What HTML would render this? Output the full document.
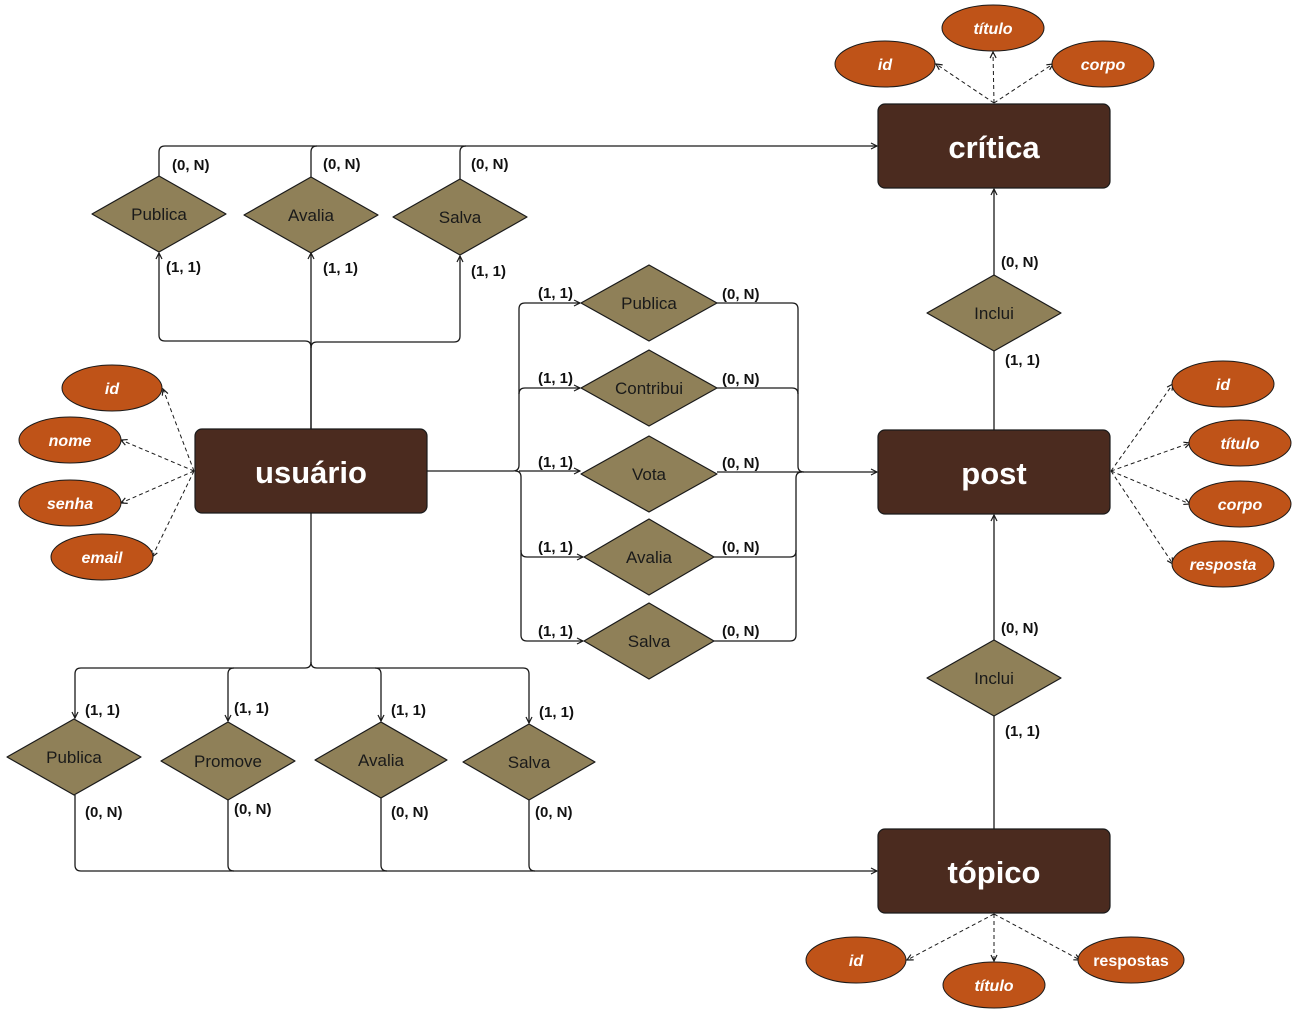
<!DOCTYPE html>
<html><head><meta charset="utf-8"><style>
html,body{margin:0;padding:0;background:#fff;}
svg{display:block;}
.ent{fill:#4b2b1f;stroke:#1a1a1a;stroke-width:1.2;}
.et{fill:#fff;font-family:"Liberation Sans",sans-serif;font-weight:bold;font-size:31px;text-anchor:middle;}
.dia{fill:#8f8058;stroke:#1a1a1a;stroke-width:1.2;stroke-linejoin:round;}
.dt{fill:#1a1a1a;font-family:"Liberation Sans",sans-serif;font-size:17px;text-anchor:middle;}
.att{fill:#bf5318;stroke:#1a1a1a;stroke-width:1;}
.at{fill:#fff;font-family:"Liberation Sans",sans-serif;font-weight:bold;font-style:italic;font-size:16px;text-anchor:middle;}
.ln{fill:none;stroke:#1a1a1a;stroke-width:1.3;}
.ds{fill:none;stroke:#1a1a1a;stroke-width:1;stroke-dasharray:4 3;}
.lb{fill:#111;font-family:"Liberation Sans",sans-serif;font-weight:bold;font-size:15px;}
</style></head><body>
<svg width="1299" height="1011" viewBox="0 0 1299 1011" xmlns="http://www.w3.org/2000/svg">
<defs><marker id="a" markerWidth="8" markerHeight="8" refX="7" refY="4" orient="auto" markerUnits="userSpaceOnUse"><path d="M1,1 L7,4 L1,7" fill="none" stroke="#1a1a1a" stroke-width="1.2"/></marker></defs>

<!-- top connectors -->
<path class="ln" d="M159,176 V152 Q159,146 165,146 H877" marker-end="url(#a)"/>
<path class="ln" d="M311,177 V152 Q311,146 317,146"/>
<path class="ln" d="M460,179 V152 Q460,146 466,146"/>
<path class="ln" d="M311,429 V347 Q311,341 305,341 H165 Q159,341 159,335 V253" marker-end="url(#a)"/>
<path class="ln" d="M311,429 V253" marker-end="url(#a)"/>
<path class="ln" d="M311,348 Q311,342 317,342 H454 Q460,342 460,336 V256" marker-end="url(#a)"/>

<!-- middle connectors -->
<path class="ln" d="M427,471 H513 Q519,471 519,465 V309 Q519,303 525,303 H580" marker-end="url(#a)"/>
<path class="ln" d="M519,394 Q519,388 525,388 H580" marker-end="url(#a)"/>
<path class="ln" d="M519,471 H580" marker-end="url(#a)"/>
<path class="ln" d="M515,471 Q521,471 521,477 V551 Q521,557 527,557 H583" marker-end="url(#a)"/>
<path class="ln" d="M521,550 V635 Q521,641 527,641 H583" marker-end="url(#a)"/>
<path class="ln" d="M717,303 H792 Q798,303 798,309 V466 Q798,472 804,472 H877" marker-end="url(#a)"/>
<path class="ln" d="M717,388 H792 Q798,388 798,394"/>
<path class="ln" d="M717,472 H804"/>
<path class="ln" d="M714,557 H790 Q796,557 796,551 V478 Q796,472 802,472"/>
<path class="ln" d="M714,641 H790 Q796,641 796,635 V550"/>

<!-- bottom connectors -->
<path class="ln" d="M311,513 V662 Q311,668 305,668 H81 Q75,668 75,674 V718" marker-end="url(#a)"/>
<path class="ln" d="M234,668 Q228,668 228,674 V721" marker-end="url(#a)"/>
<path class="ln" d="M311,662 Q311,668 317,668 H375 Q381,668 381,674 V721" marker-end="url(#a)"/>
<path class="ln" d="M375,668 H523 Q529,668 529,674 V723" marker-end="url(#a)"/>
<path class="ln" d="M75,795 V865 Q75,871 81,871 H877" marker-end="url(#a)"/>
<path class="ln" d="M228,800 V865 Q228,871 234,871"/>
<path class="ln" d="M381,798 V865 Q381,871 387,871"/>
<path class="ln" d="M529,800 V865 Q529,871 535,871"/>

<!-- Inclui connectors -->
<path class="ln" d="M994,430 V189" marker-end="url(#a)"/>
<path class="ln" d="M994,829 V515" marker-end="url(#a)"/>

<!-- dashed attribute lines -->
<g marker-end="url(#a)">
<path class="ds" d="M994,103 L936,64"/><path class="ds" d="M994,103 L993,52"/><path class="ds" d="M994,103 L1053,64"/>
<path class="ds" d="M194,471 L163,389"/><path class="ds" d="M194,471 L121,440"/><path class="ds" d="M194,471 L121,503"/><path class="ds" d="M194,471 L152,557"/>
<path class="ds" d="M1111,471 L1173,384"/><path class="ds" d="M1111,471 L1190,443"/><path class="ds" d="M1111,471 L1190,504"/><path class="ds" d="M1111,471 L1173,564"/>
<path class="ds" d="M994,914 L907,960"/><path class="ds" d="M994,914 L994,961"/><path class="ds" d="M994,914 L1080,960"/>
</g>

<!-- entities -->
<rect class="ent" x="878" y="104" width="232" height="84" rx="7"/><text class="et" x="994" y="158">crítica</text>
<rect class="ent" x="195" y="429" width="232" height="84" rx="7"/><text class="et" x="311" y="483">usuário</text>
<rect class="ent" x="878" y="430" width="232" height="84" rx="7"/><text class="et" x="994" y="484">post</text>
<rect class="ent" x="878" y="829" width="232" height="84" rx="7"/><text class="et" x="994" y="883">tópico</text>

<!-- diamonds -->
<polygon class="dia" points="159,176 226,214 159,252 92,214"/><text class="dt" x="159" y="220">Publica</text>
<polygon class="dia" points="311,177 378,215 311,253 244,215"/><text class="dt" x="311" y="221">Avalia</text>
<polygon class="dia" points="460,179 527,217 460,255 393,217"/><text class="dt" x="460" y="223">Salva</text>
<polygon class="dia" points="649,265 717,303 649,341 581,303"/><text class="dt" x="649" y="309">Publica</text>
<polygon class="dia" points="649,350 717,388 649,426 581,388"/><text class="dt" x="649" y="394">Contribui</text>
<polygon class="dia" points="649,436 717,474 649,512 581,474"/><text class="dt" x="649" y="480">Vota</text>
<polygon class="dia" points="649,519 714,557 649,595 584,557"/><text class="dt" x="649" y="563">Avalia</text>
<polygon class="dia" points="649,603 714,641 649,679 584,641"/><text class="dt" x="649" y="647">Salva</text>
<polygon class="dia" points="994,275 1061,313 994,351 927,313"/><text class="dt" x="994" y="319">Inclui</text>
<polygon class="dia" points="994,640 1061,678 994,716 927,678"/><text class="dt" x="994" y="684">Inclui</text>
<polygon class="dia" points="74,719 141,757 74,795 7,757"/><text class="dt" x="74" y="763">Publica</text>
<polygon class="dia" points="228,722 295,761 228,800 161,761"/><text class="dt" x="228" y="767">Promove</text>
<polygon class="dia" points="381,722 447,760 381,798 315,760"/><text class="dt" x="381" y="766">Avalia</text>
<polygon class="dia" points="529,724 595,762 529,800 463,762"/><text class="dt" x="529" y="768">Salva</text>

<!-- attributes -->
<ellipse class="att" cx="885" cy="64" rx="50" ry="23"/><text class="at" x="885" y="70">id</text>
<ellipse class="att" cx="993" cy="28" rx="51" ry="23"/><text class="at" x="993" y="34">título</text>
<ellipse class="att" cx="1103" cy="64" rx="51" ry="23"/><text class="at" x="1103" y="70">corpo</text>
<ellipse class="att" cx="112" cy="388" rx="50" ry="23"/><text class="at" x="112" y="394">id</text>
<ellipse class="att" cx="70" cy="440" rx="51" ry="23"/><text class="at" x="70" y="446">nome</text>
<ellipse class="att" cx="70" cy="503" rx="51" ry="23"/><text class="at" x="70" y="509">senha</text>
<ellipse class="att" cx="102" cy="557" rx="51" ry="23"/><text class="at" x="102" y="563">email</text>
<ellipse class="att" cx="1223" cy="384" rx="51" ry="23"/><text class="at" x="1223" y="390">id</text>
<ellipse class="att" cx="1240" cy="443" rx="51" ry="23"/><text class="at" x="1240" y="449">título</text>
<ellipse class="att" cx="1240" cy="504" rx="51" ry="23"/><text class="at" x="1240" y="510">corpo</text>
<ellipse class="att" cx="1223" cy="564" rx="51" ry="23"/><text class="at" x="1223" y="570">resposta</text>
<ellipse class="att" cx="856" cy="960" rx="50" ry="23"/><text class="at" x="856" y="966">id</text>
<ellipse class="att" cx="994" cy="985" rx="51" ry="23"/><text class="at" x="994" y="991">título</text>
<ellipse class="att" cx="1131" cy="960" rx="53" ry="23"/><text class="at" x="1131" y="966" style="font-style:normal">respostas</text>

<!-- labels -->
<g class="lb">
<text x="172" y="170">(0, N)</text><text x="323" y="169">(0, N)</text><text x="471" y="169">(0, N)</text>
<text x="166" y="272">(1, 1)</text><text x="323" y="273">(1, 1)</text><text x="471" y="276">(1, 1)</text>
<text x="538" y="298">(1, 1)</text><text x="538" y="383">(1, 1)</text><text x="538" y="467">(1, 1)</text><text x="538" y="552">(1, 1)</text><text x="538" y="636">(1, 1)</text>
<text x="722" y="299">(0, N)</text><text x="722" y="384">(0, N)</text><text x="722" y="468">(0, N)</text><text x="722" y="552">(0, N)</text><text x="722" y="636">(0, N)</text>
<text x="1001" y="267">(0, N)</text><text x="1005" y="365">(1, 1)</text>
<text x="1001" y="633">(0, N)</text><text x="1005" y="736">(1, 1)</text>
<text x="85" y="715">(1, 1)</text><text x="234" y="713">(1, 1)</text><text x="391" y="715">(1, 1)</text><text x="539" y="717">(1, 1)</text>
<text x="85" y="817">(0, N)</text><text x="234" y="814">(0, N)</text><text x="391" y="817">(0, N)</text><text x="535" y="817">(0, N)</text>
</g>
</svg>
</body></html>
